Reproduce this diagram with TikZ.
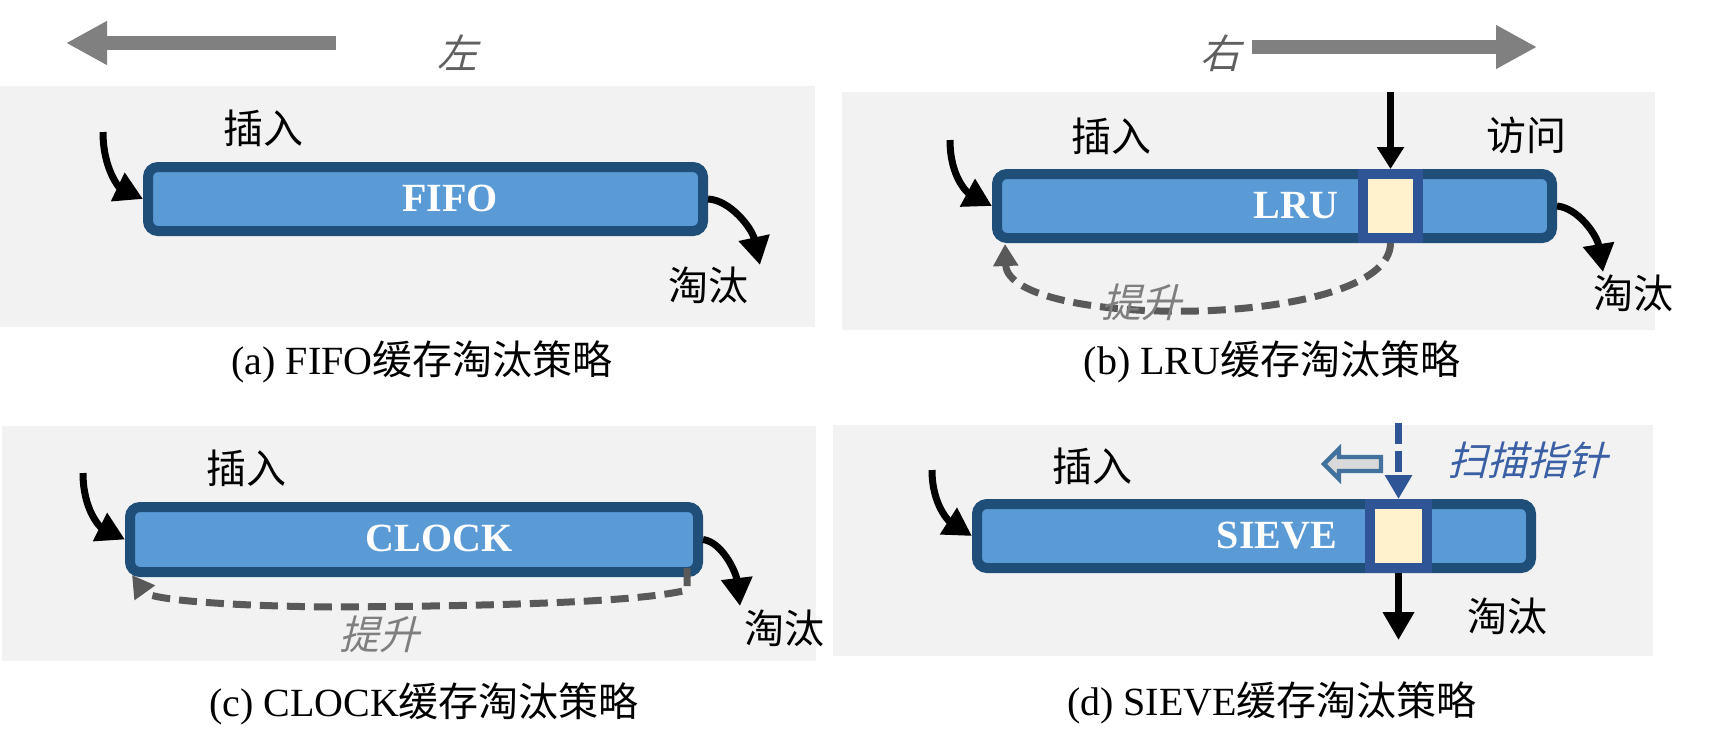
\documentclass[tikz,border=0pt]{standalone}
\usepackage{fontspec}
\setmainfont{Liberation Serif}
\newfontfamily\cjk{Noto Sans CJK SC}
\newfontfamily\cjkit{Noto Sans CJK SC}[FakeSlant=0.25]
\usetikzlibrary{arrows.meta}
\definecolor{bggray}{HTML}{F2F2F2}
\definecolor{boxborder}{HTML}{1F4E79}
\definecolor{boxfill}{HTML}{5B9BD5}
\definecolor{cellborder}{HTML}{2F5597}
\definecolor{cream}{HTML}{FFF2CC}
\definecolor{toparrowgray}{HTML}{808080}
\definecolor{dashgray}{HTML}{595959}
\definecolor{dirgray}{HTML}{606060}
\definecolor{promgray}{HTML}{7F7F7F}
\definecolor{scanblue}{HTML}{3A5FA5}
\definecolor{hollowstroke}{HTML}{41719C}
\definecolor{hollowfill}{HTML}{D9D9D9}
\tikzset{
  panelbg/.style={fill=bggray},
  cachebox/.style={draw=boxborder, fill=boxfill, line width=5pt, rounded corners=5pt, inner sep=0pt},
  cellbox/.style={draw=cellborder, fill=cream, line width=5pt, inner sep=0pt, minimum width=27.5pt, minimum height=32pt},
  boxtext/.style={text=white, font=\bfseries\fontsize{20pt}{24pt}\selectfont, inner sep=0pt},
  lbl/.style={font=\cjk\fontsize{20pt}{24pt}\selectfont, inner sep=0pt},
  dirlbl/.style={font=\cjkit\fontsize{20pt}{24pt}\selectfont, text=dirgray, inner sep=0pt},
  promlbl/.style={font=\cjkit\fontsize{20pt}{24pt}\selectfont, text=promgray, inner sep=0pt},
  scanlbl/.style={font=\cjkit\fontsize{20pt}{24pt}\selectfont, text=scanblue, inner sep=0pt},
  caption/.style={font=\fontsize{20pt}{24pt}\selectfont, inner sep=0pt},
  toparrow/.style={draw=toparrowgray, line width=7pt, -{Triangle[length=20.5pt,width=20.5pt]}},
  insarrow/.style={draw=black, line width=3.5pt, -{Triangle[length=14pt,width=15pt]}},
  evarrow/.style={draw=black, line width=3.5pt, -{Triangle[length=14pt,width=15pt]}},
  accarrow/.style={draw=black, line width=3.2pt, -{Triangle[length=11pt,width=13pt]}},
  promarrow/.style={draw=dashgray, line width=3.5pt, dash pattern=on 9pt off 4.5pt, -{Triangle[length=11pt,width=12pt]}},
  scanarrow/.style={draw=cellborder, line width=3.5pt, dash pattern=on 10.5pt off 3.5pt, -{Triangle[length=12pt,width=13pt]}},
}
\begin{document}
\begin{tikzpicture}[x=0.5pt,y=-0.5pt]
\useasboundingbox (0,0) rectangle (1729,752);
\fill[white] (0,0) rectangle (1729,752);

% panel backgrounds
\fill[panelbg] (0,86) rectangle (815,327);
\fill[panelbg] (842,92) rectangle (1655,330);
\fill[panelbg] (2,426) rectangle (816,661);
\fill[panelbg] (833,425) rectangle (1653,656);

% direction arrows
\coordinate (lTail) at (336,43);
\coordinate (lTip) at (66,43);
\draw[toparrow] (lTail) -- (lTip);
\node[dirlbl] (left) at (457,53) {左};
\coordinate (rTail) at (1252,47);
\coordinate (rTip) at (1537,47);
\draw[toparrow] (rTail) -- (rTip);
\node[dirlbl] (right) at (1220,53) {右};

% ---------------- (a) FIFO
\node[cachebox, minimum width=277.5pt, minimum height=32pt] (boxA) at (425.5,199) {};
\node[boxtext] (txtA) at (450,198) {FIFO};
\node[lbl] (insA) at (263,128) {插入};
\node[lbl] (evA) at (708,285) {淘汰};
\coordinate (insAstart) at (103,132);
\draw[insarrow] (insAstart) .. controls (103,170) and (120,188) .. (boxA.west);
\coordinate (evAend) at (760,265);
\draw[evarrow] (boxA.east) .. controls (730,200) and (752,228) .. (evAend);
\node[caption] (capA) at (422,362) {(a) FIFO{\cjk 缓存淘汰策略}};

% ---------------- (b) LRU
\node[cachebox, minimum width=277.5pt, minimum height=32pt] (boxB) at (1274.5,206) {};
\node[boxtext] (txtB) at (1296,206) {LRU};
\node[cellbox] (cellB) at (1390.5,206) {};
\node[lbl] (insB) at (1111,136) {插入};
\node[lbl] (accB) at (1526,135) {访问};
\node[lbl] (evB) at (1633,293) {淘汰};
\coordinate (insBstart) at (950,140);
\draw[insarrow] (insBstart) .. controls (950,178) and (968,193) .. (boxB.west);
\coordinate (accBstart) at (1390.5,92);
\draw[accarrow] (accBstart) -- (cellB.north);
\coordinate (evBend) at (1603,272);
\draw[evarrow] (boxB.east) .. controls (1578,208) and (1597,235) .. (evBend);
\coordinate (promBend) at (1005,244);
\draw[promarrow] (cellB.south) .. controls (1390,330) and (1008,330) .. (promBend);
\node[promlbl] (promB) at (1141,302) {提升};
\node[caption] (capB) at (1272,362) {(b) LRU{\cjk 缓存淘汰策略}};

% ---------------- (c) CLOCK
\node[cachebox, minimum width=284pt, minimum height=32.5pt] (boxC) at (414,539.5) {};
\node[boxtext] (txtC) at (439,538) {CLOCK};
\node[lbl] (insC) at (246,468) {插入};
\node[lbl] (evC) at (784,628) {淘汰};
\coordinate (insCstart) at (83,473);
\draw[insarrow] (insCstart) .. controls (83,510) and (100,527) .. (boxC.west);
\coordinate (evCend) at (740,606);
\draw[evarrow] (boxC.east) .. controls (722,542) and (736,572) .. (evCend);
\coordinate (promCstart) at (687,568);
\coordinate (promCend) at (132,575);
\draw[promarrow] (promCstart) -- (687,590) .. controls (640,602) and (500,606) .. (333,607) .. controls (230,606) and (150,600) .. (promCend);
\node[promlbl] (promC) at (379,634) {提升};
\node[caption] (capC) at (424,704) {(c) CLOCK{\cjk 缓存淘汰策略}};

% ---------------- (d) SIEVE
\node[cachebox, minimum width=277pt, minimum height=32pt] (boxD) at (1254,536) {};
\node[boxtext] (txtD) at (1277,536) {SIEVE};
\node[cellbox, minimum width=28.5pt] (cellD) at (1398.5,536) {};
\node[lbl] (insD) at (1092,466) {插入};
\node[lbl] (evD) at (1507,616) {淘汰};
\node[scanlbl] (scan) at (1527,460) {扫描指针};
\coordinate (insDstart) at (932,470);
\draw[insarrow] (insDstart) .. controls (932,506) and (950,522) .. (boxD.west);
\coordinate (scanStart) at (1398.5,423);
\draw[scanarrow] (scanStart) -- (cellD.north);
\coordinate (evDend) at (1398.5,640);
\draw[evarrow] (cellD.south) -- (evDend);
% hollow block arrow (scan direction)
\draw[draw=hollowstroke, fill=hollowfill, line width=2.2pt, line join=miter]
  (1324,464) -- (1339,449) -- (1339,457) -- (1381,457) -- (1381,471) -- (1339,471) -- (1339,479) -- cycle;
\node[caption] (capD) at (1272,703) {(d) SIEVE{\cjk 缓存淘汰策略}};
\end{tikzpicture}
\end{document}
